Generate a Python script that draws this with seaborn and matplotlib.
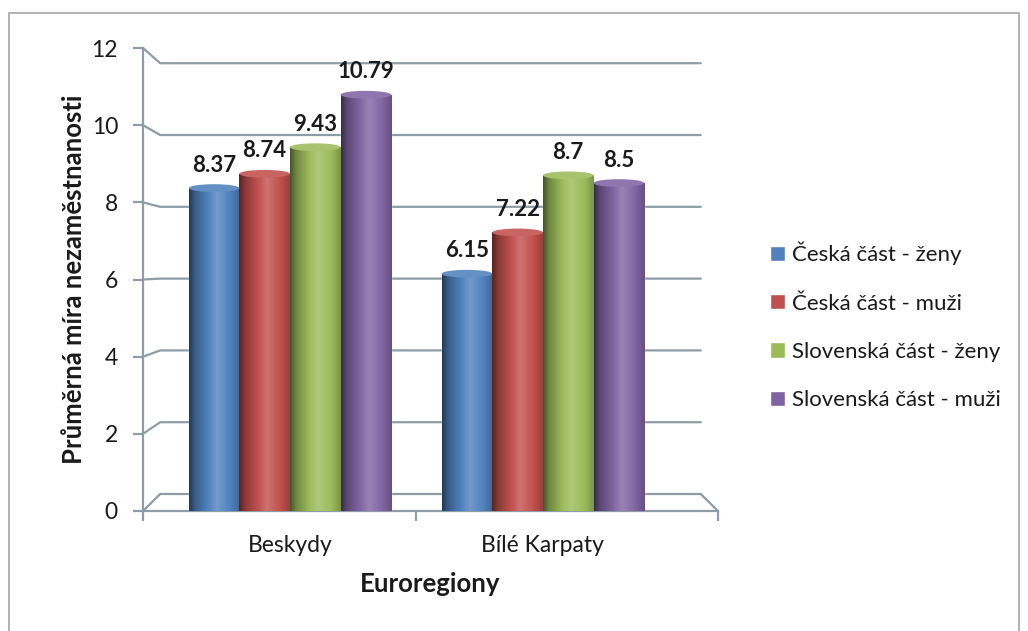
import numpy as np
import pandas as pd
import seaborn as sns
import matplotlib.pyplot as plt
from matplotlib.colors import to_rgb
from matplotlib.patches import Rectangle, Ellipse

# data
regions = ["Beskydy", "Bílé Karpaty"]
groups = ["Česká část - ženy", "Česká část - muži",
          "Slovenská část - ženy", "Slovenská část - muži"]
beskydy = [8.37, 8.74, 9.43, 10.79]
bile_karpaty = [6.15, 7.22, 8.7, 8.5]
colors = ["#4F81BD", "#C0504D", "#9BBB59", "#8064A2"]
yticks = [0, 2, 4, 6, 8, 10, 12]

df = pd.DataFrame({
    "region": [regions[0]] * 4 + [regions[1]] * 4,
    "group": groups + groups,
    "value": beskydy + bile_karpaty,
})

sns.set_style("white")
plt.rcParams["font.family"] = ["Lato", "DejaVu Sans"]
txt = "#1a1a1a"
gridc = "#8C9DA5"


def tint(base, f):
    # darken below 1, lighten toward white above 1
    if f < 1:
        return base * f
    return base + (1 - base) * (f - 1)


fig = plt.figure(figsize=(10.28, 6.31), dpi=100)
ax = fig.add_axes([0.1391, 0.1902, 0.5593, 0.7337])

sns.barplot(data=df, x="region", y="value", hue="group", palette=colors,
            saturation=1, width=0.8, ax=ax, zorder=3)

# cylinder-like shading on each bar
xs = np.linspace(0, 1, 120)
shade = np.interp(xs, [0, 0.12, 0.55, 0.8, 1], [0.45, 0.72, 1.2, 1.02, 0.8])
for cont, col in zip(ax.containers, colors):
    base = np.array(to_rgb(col))
    img = np.array([tint(base, f) for f in shade])[None, :, :]
    for p in cont.patches:
        x, w, h = p.get_x(), p.get_width(), p.get_height()
        im = ax.imshow(img, extent=[x, x + w, 0, h], aspect="auto",
                       zorder=4, interpolation="bilinear")
        im.set_clip_path(p)
        ax.add_patch(Ellipse((x + w / 2, h), w, 0.2, facecolor=tint(base, 1.12),
                             edgecolor="none", zorder=5))
        ax.annotate(f"{h:g}", (x + w / 2, h), xytext=(0, 9),
                    textcoords="offset points", ha="center", va="bottom",
                    fontsize=16, fontweight="bold", color=txt, zorder=6)

x0, x1 = -0.581, 1.692
ax.set_xlim(x0, x1)
ax.set_ylim(0, 12)

# 3D-looking back wall grid
dx = 0.068
def back(v):
    return 0.44 + 0.9305 * v

for v in yticks:
    ax.plot([x0, x0 + dx, x1 - dx], [v, back(v), back(v)], color=gridc,
            lw=1.6, zorder=1, clip_on=False)
ax.plot([x1 - dx, x1], [back(0), 0], color=gridc, lw=1.6, zorder=1, clip_on=False)

for s in ["top", "right"]:
    ax.spines[s].set_visible(False)
for s in ["left", "bottom"]:
    ax.spines[s].set_color(gridc)
    ax.spines[s].set_linewidth(1.6)

ax.set_yticks(yticks)
ax.tick_params(axis="y", length=7, width=1.6, color=gridc, pad=11,
               labelsize=16.5, labelcolor=txt, left=True)
ax.set_xticks([0, 1])
ax.set_xticklabels(regions)
ax.tick_params(axis="x", which="major", length=0, pad=17, labelsize=16.5, labelcolor=txt)
ax.set_xticks([x0, 0.5, x1], minor=True)
ax.tick_params(axis="x", which="minor", length=7, width=1.6, color=gridc, bottom=True)

ax.set_xlabel("Euroregiony", fontsize=18.5, fontweight="bold", color=txt, labelpad=12)
ax.set_ylabel("Průměrná míra nezaměstnanosti", fontsize=18.5, fontweight="bold",
              color=txt, labelpad=4)

handles, labels = ax.get_legend_handles_labels()
ax.legend(handles, labels, loc="center left",
          bbox_to_anchor=(770 / 1028, 1 - 326 / 631), bbox_transform=fig.transFigure,
          frameon=False, fontsize=16, handlelength=0.68, handleheight=0.68,
          handletextpad=0.32, labelspacing=1.27, borderpad=0, borderaxespad=0,
          labelcolor=txt)

fig.patches.append(Rectangle((9 / 1028, -0.05), 1010 / 1028, 1.05 - 13 / 631,
                             transform=fig.transFigure, fill=False,
                             edgecolor="#A6A6A6", lw=1.2))

fig.savefig("out.png", dpi=100, facecolor="white")
